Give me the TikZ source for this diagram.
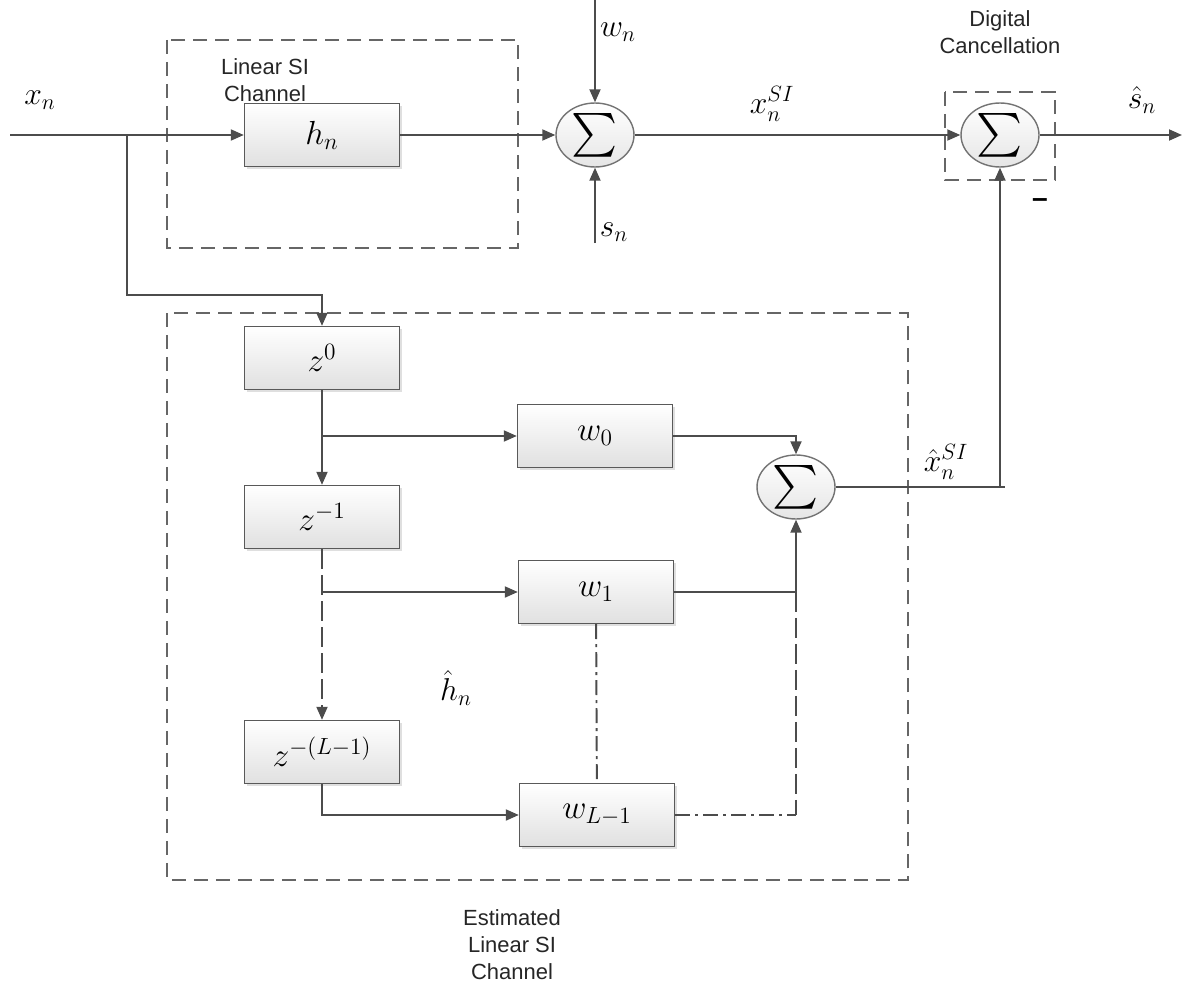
\RequirePackage{fix-cm}
\documentclass[tikz,border=0pt]{standalone}
\usepackage{amsmath}
\usepackage{fontspec}
\newfontfamily\arialfont{Liberation Sans}
\usetikzlibrary{shapes, arrows.meta, positioning, shadows}

\begin{document}
\begin{tikzpicture}[x=0.02cm, y=-0.02cm,
    blk/.style={draw=black!65, line width=0.8pt, rectangle, minimum width=3.1cm, minimum height=1.26cm,
      top color=white, bottom color=black!12,
      drop shadow={opacity=0.25, shadow xshift=1.2pt, shadow yshift=-1.2pt},
      font=\fontsize{19}{22}\selectfont},
    sumnode/.style={draw=black!55, line width=0.8pt, ellipse, minimum width=1.56cm, minimum height=1.28cm,
      inner sep=0pt, top color=white, bottom color=black!10,
      font=\fontsize{23}{26}\selectfont},
    line/.style={draw=black!70, line width=1.1pt},
    arr/.style={line, -{Triangle[length=2.6mm, width=2.2mm]}},
    region/.style={draw=black!60, line width=0.8pt, dash pattern=on 2.8mm off 1.6mm},
    lbl/.style={font=\arialfont\fontsize{12.5}{15.3}\selectfont, align=center, text=black!85},
    sig/.style={font=\fontsize{18}{21}\selectfont}]

  \useasboundingbox (0,0) rectangle (1187,990);

  % dashed regions
  \draw[region] (167,40) rectangle (518,248);
  \draw[region] (945,92) rectangle (1055,180);
  \draw[region] (167,313) rectangle (908,880);

  % blocks
  \node[blk] (hn) at (322,135) {$h_n$};
  \node[sumnode] (s1) at (595,135) {$\sum$};
  \node[sumnode] (s2) at (1000,135) {$\sum$};
  \node[blk] (z0) at (322,358) {$z^0$};
  \node[blk] (z1) at (322,517) {$z^{-1}$};
  \node[blk] (zL) at (322,752) {$z^{-(L-1)}$};
  \node[blk] (w0) at (595,436) {$w_0$};
  \node[blk] (w1) at (596,592) {$w_1$};
  \node[blk] (wL) at (597,815) {$w_{L-1}$};
  \node[sumnode] (s3) at (796,487) {$\sum$};

  % free ends and bends
  \coordinate (in) at (10,135);
  \coordinate (tap) at (127,135);
  \coordinate (tapdn) at (127,295);
  \coordinate (wtop) at (595,0);
  \coordinate (sbot) at (595,243);
  \coordinate (out) at (1182,135);
  \coordinate (b0) at (322,436);
  \coordinate (b1) at (322,592);
  \coordinate (c1) at (796,592);
  \coordinate (cL) at (796,815);
  \coordinate (fbend) at (1005,487);
  \coordinate (fb) at (1000,487);

  % labels
  \node[lbl] (lsi) at (265,80) {Linear SI\\Channel};
  \node[lbl] (dc) at (1000,32) {Digital\\Cancellation};
  \node[lbl] (est) at (512,945) {Estimated\\Linear SI\\Channel};
  \node[sig] (xn) at (40,100) {$x_n$};
  \node[sig] (wn) at (618,32) {$w_n$};
  \node[sig] (sn) at (614,232) {$s_n$};
  \node[sig] (xsi) at (772,104) {$x_n^{SI}$};
  \node[sig] (shat) at (1142,100) {$\hat{s}_n$};
  \node[font=\arialfont\bfseries\fontsize{16}{18}\selectfont, text=black] (minus) at (1040,203) {–};
  \node[sig] (xhat) at (946,462) {$\hat{x}_n^{SI}$};
  \node[sig] (hhat) at (456,688) {$\hat{h}_n$};

  % upper path
  \draw[arr] (in) -- (hn);
  \draw[arr] (tap) -- (tapdn) -| (z0);
  \draw[arr] (hn) -- (s1);
  \draw[arr] (wtop) -- (s1);
  \draw[arr] (sbot) -- (s1);
  \draw[arr] (s1) -- (s2);
  \draw[arr] (s2) -- (out);

  % estimated channel
  \draw[arr] (z0) -- (z1);
  \draw[arr] (b0) -- (w0);
  \draw[arr] (w0) -| (s3);
  \draw[arr, dash pattern=on 4mm off 1.2mm] (z1) -- (zL);
  \draw[arr] (b1) -- (w1);
  \draw[arr] (w1) -| (s3);
  \draw[line, dash pattern=on 4mm off 1.2mm] (c1) -- (cL);
  \draw[line, dash pattern=on 3mm off 1mm on 0.6mm off 1mm] (w1) -- (wL);
  \draw[line, dash pattern=on 3mm off 1mm on 0.6mm off 1mm] (wL) -- (cL);
  \draw[arr] (zL) |- (wL);

  % feedback to cancellation
  \draw[line] (s3) -- (fbend);
  \draw[arr] (fb) -- (s2);
\end{tikzpicture}
\end{document}
